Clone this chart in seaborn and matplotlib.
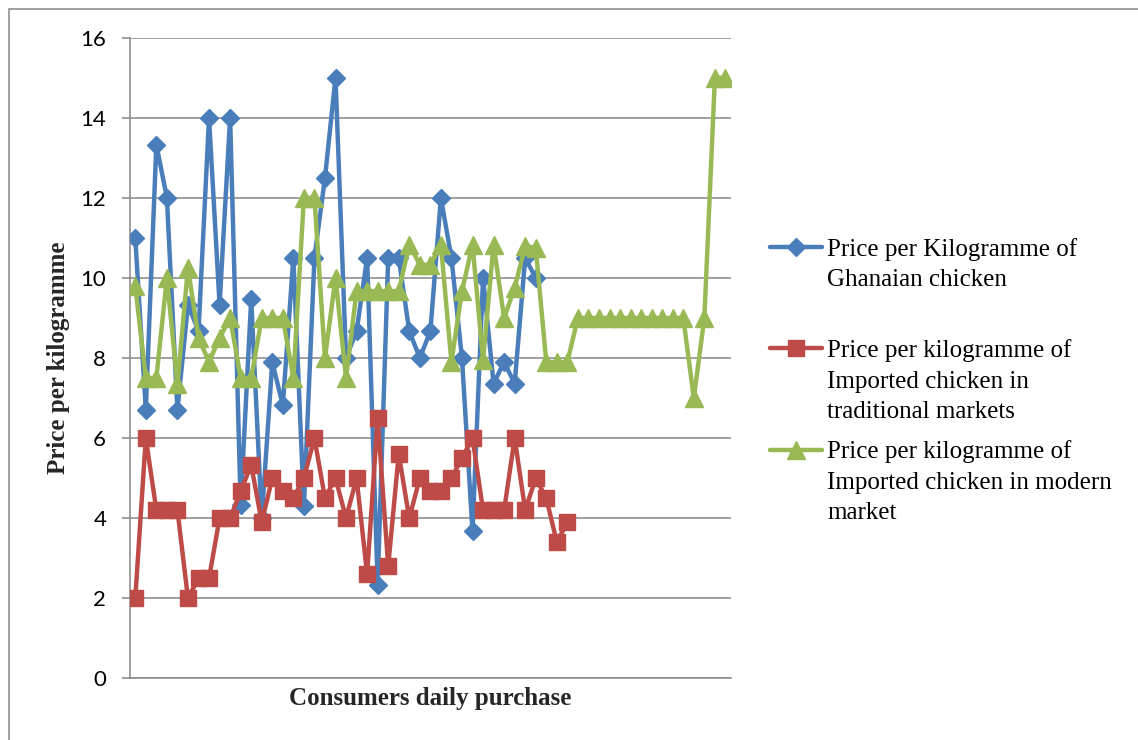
import numpy as np
import pandas as pd
import matplotlib
matplotlib.use("Agg")
import matplotlib.pyplot as plt
from matplotlib.lines import Line2D
from matplotlib.patches import Rectangle
import seaborn as sns

# Price per kilogramme for each daily purchase
ghanaian = [11.0, 6.7, 13.33, 12.0, 6.7, 9.33, 8.67, 14.0, 9.33, 14.0,
            4.33, 9.47, 4.0, 7.9, 6.82, 10.5, 4.3, 10.5, 12.5, 15.0,
            8.0, 8.67, 10.5, 2.33, 10.5, 10.5, 8.67, 8.0, 8.67, 12.0,
            10.5, 8.0, 3.67, 10.0, 7.36, 7.9, 7.36, 10.5, 10.0]

imported_traditional = [2.0, 6.0, 4.2, 4.2, 4.2, 2.0, 2.5, 2.5, 4.0, 4.0,
                        4.67, 5.33, 3.9, 5.0, 4.67, 4.5, 5.0, 6.0, 4.5, 5.0,
                        4.0, 5.0, 2.6, 6.5, 2.8, 5.6, 4.0, 5.0, 4.67, 4.67,
                        5.0, 5.5, 6.0, 4.2, 4.2, 4.2, 6.0, 4.2, 5.0, 4.5,
                        3.4, 3.9]

imported_modern = [9.8, 7.5, 7.5, 10.0, 7.35, 10.25, 8.5, 7.9, 8.5, 9.0,
                   7.5, 7.5, 9.0, 9.0, 9.0, 7.5, 12.0, 12.0, 8.0, 10.0,
                   7.5, 9.67, 9.67, 9.67, 9.67, 9.67, 10.83, 10.33, 10.33, 10.83,
                   7.9, 9.67, 10.83, 7.95, 10.83, 9.0, 9.75, 10.8, 10.75, 7.9,
                   7.9, 7.9, 9.0, 9.0, 9.0, 9.0, 9.0, 9.0, 9.0, 9.0,
                   9.0, 9.0, 9.0, 7.0, 9.0, 15.0, 15.0]

series_labels = [
    ["Price per Kilogramme of", "Ghanaian chicken"],
    ["Price per kilogramme of", "Imported chicken in", "traditional markets"],
    ["Price per kilogramme of", "Imported chicken in modern", "market"],
]
series_colors = ["#4A7EBB", "#BE4B48", "#98B954"]
series_markers = ["D", "s", "^"]
marker_sizes = [9.5, 12, 13]

y_ticks = [0, 2, 4, 6, 8, 10, 12, 14, 16]
x_title = "Consumers daily purchase"
y_title = "Price per kilogramme"

sns.set_style("white")
plt.rcParams["font.family"] = ["Lato", "DejaVu Sans"]
serif = ["Liberation Serif", "DejaVu Serif"]
grey = "#868686"

W, H = 1138, 740
fig = plt.figure(figsize=(W / 100, H / 100), dpi=100)
fig.patch.set_facecolor("white")

# plot area in pixel terms
left, right, top, bottom = 130, 730.7, 37.7, 678.3
ax = fig.add_axes([left / W, 1 - bottom / H, (right - left) / W, (bottom - top) / H])

n_points = len(imported_modern)
all_series = [ghanaian, imported_traditional, imported_modern]
drawn = []
for z, (vals, col, mk, ms) in enumerate(zip(all_series, series_colors, series_markers, marker_sizes)):
    df = pd.DataFrame({"purchase": np.arange(1, len(vals) + 1), "price": vals})
    sns.lineplot(data=df, x="purchase", y="price", ax=ax, color=col, marker=mk,
                 markersize=ms, markeredgecolor=col, markerfacecolor=col,
                 markeredgewidth=1, linewidth=3.2, sort=False, errorbar=None,
                 legend=False, zorder=3 + z)
    drawn.append(ax.lines[-1])

ax.set_xlim(0.5, n_points + 0.5)
ax.set_ylim(0, 16)
ax.set_yticks(y_ticks)
ax.set_yticklabels([str(t) for t in y_ticks])
ax.set_xticks([])
ax.yaxis.grid(True, color=grey, linewidth=1.1)
ax.xaxis.grid(False)
ax.set_axisbelow(True)
for side in ("top", "right"):
    ax.spines[side].set_visible(False)
for side in ("left", "bottom"):
    ax.spines[side].set_color(grey)
    ax.spines[side].set_linewidth(1.1)
ax.tick_params(axis="y", length=6.1, width=1.1, color=grey, pad=11,
               labelsize=16, labelcolor="black", left=True)

ax.set_xlabel(x_title, family=serif, fontweight="bold", fontsize=18, va="center")
ax.xaxis.set_label_coords(0.5, -(699 - bottom) / (bottom - top))
ax.set_ylabel(y_title, family=serif, fontweight="bold", fontsize=18, va="center")
ax.yaxis.set_label_coords((58 - left) / (right - left), 0.5)

# legend: key line with centred marker, text lines beside it
key_x = [770, 796, 822]
key_y = [246.7, 348.3, 450.0]
first_baseline = [255.7, 357.3, 458.3]
line_step = 30.3
for line, labels, ky, fb in zip(drawn, series_labels, key_y, first_baseline):
    key = Line2D([x / W for x in key_x], [1 - ky / H] * 3, transform=fig.transFigure,
                 color=line.get_color(), linewidth=3.2, marker=line.get_marker(),
                 markersize=line.get_markersize(), markeredgecolor=line.get_color(),
                 markerfacecolor=line.get_color(), markevery=[1])
    fig.add_artist(key)
    for i, text in enumerate(labels):
        fig.text(827 / W, 1 - (fb + i * line_step) / H, text, family=serif,
                 fontsize=18, va="baseline", ha="left", color="black")

# chart frame
frame = Rectangle((8.5 / W, -0.05), 1.2, 1.05 - 9.3 / H, transform=fig.transFigure,
                  fill=False, edgecolor=grey, linewidth=1.1, clip_on=False)
fig.add_artist(frame)

fig.savefig("out.png", dpi=100, facecolor="white")
